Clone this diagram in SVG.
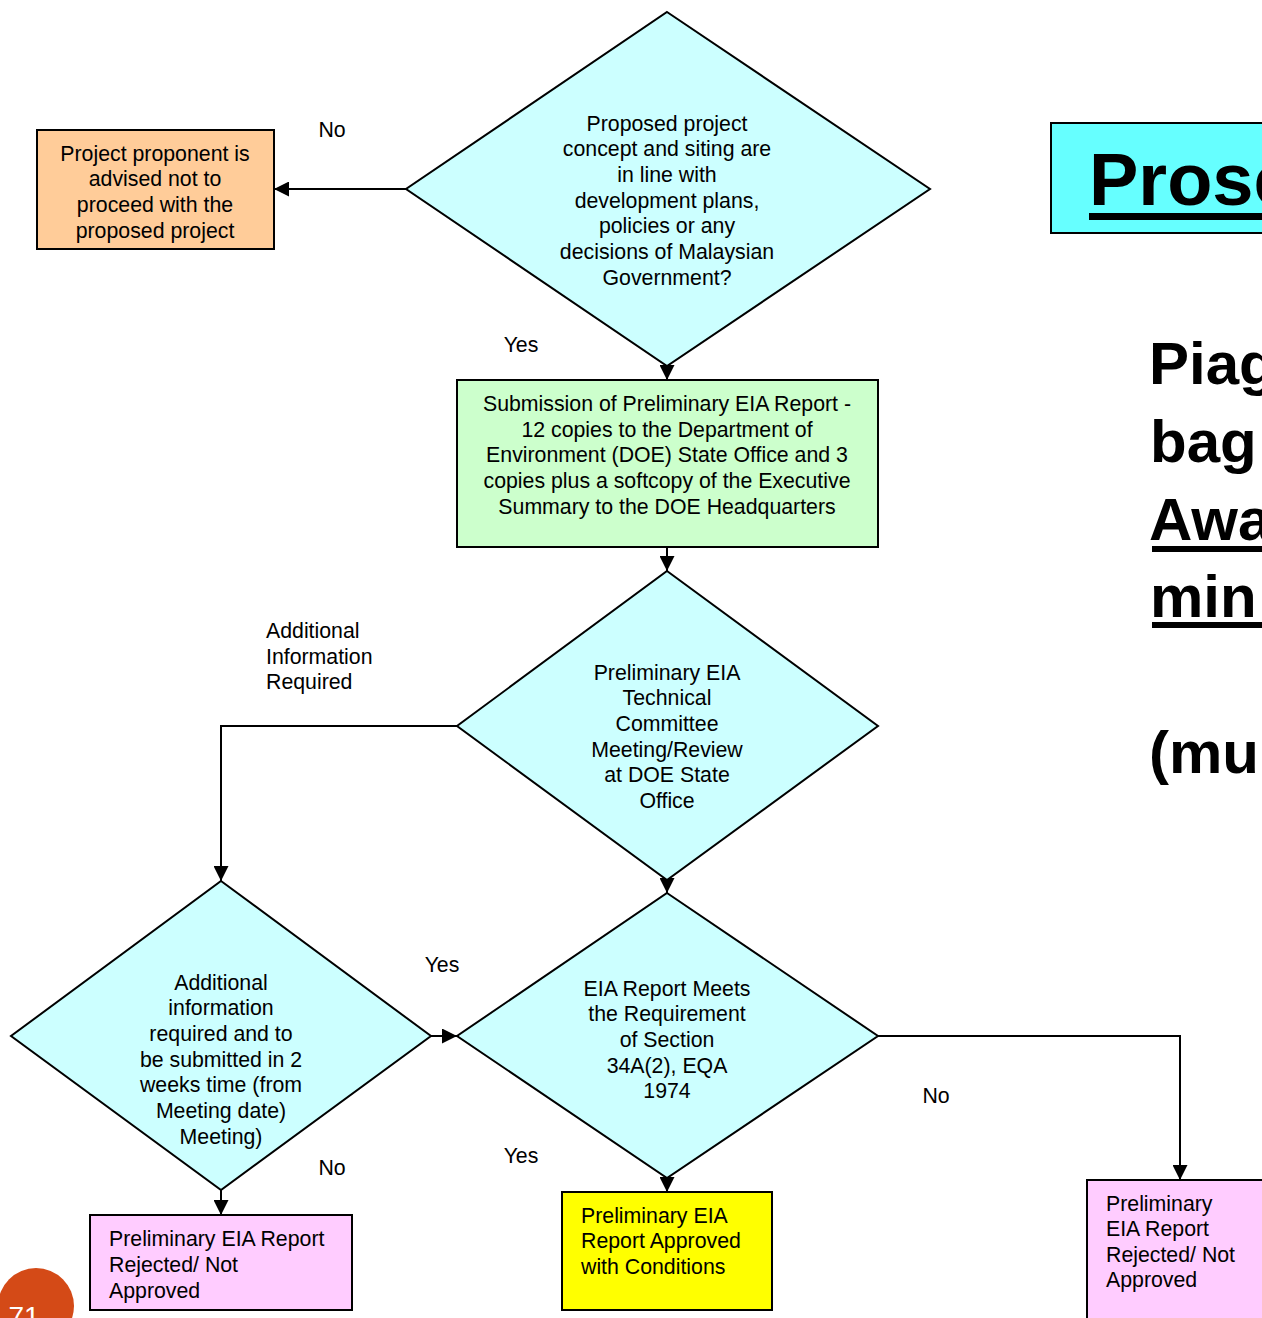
<svg xmlns="http://www.w3.org/2000/svg" width="1262" height="1318" viewBox="0 0 1262 1318">
<defs>
<style>
.t{font-family:"Liberation Sans",Arial,sans-serif;font-size:21.3px;fill:#000}
.c{text-anchor:middle}
.d{fill:#CCFFFF;stroke:#000;stroke-width:2}
.b{stroke:#000;stroke-width:2}
.big{font-family:"Liberation Sans",Arial,sans-serif;font-weight:bold;fill:#000}
.con{fill:none;stroke:#000;stroke-width:2;marker-end:url(#ah)}
</style>
<marker id="ah" viewBox="0 0 15 15" refX="15" refY="7.5" markerWidth="15" markerHeight="15" markerUnits="userSpaceOnUse" orient="auto">
<path d="M0,0 L15,7.5 L0,15 z" fill="#000"/>
</marker>
</defs>
<rect width="1262" height="1318" fill="#fff"/>

<g id="connectors">
<path class="con" d="M406,189 H274"/>
<path class="con" d="M667,366 V380"/>
<path class="con" d="M667,547 V571"/>
<path class="con" d="M667,880 V893"/>
<path class="con" d="M457,726 H221 V881"/>
<path class="con" d="M431,1036 H457"/>
<path class="con" d="M221,1190 V1215"/>
<path class="con" d="M667,1178 V1192"/>
<path class="con" d="M878,1036 H1180 V1180"/>
</g>

<g id="labels" class="t">
<text x="332" y="137" class="c">No</text>
<text x="521" y="352" class="c">Yes</text>
<text x="266" y="638">Additional</text>
<text x="266" y="664">Information</text>
<text x="266" y="689">Required</text>
<text x="442" y="972" class="c">Yes</text>
<text x="936" y="1103" class="c">No</text>
<text x="521" y="1163" class="c">Yes</text>
<text x="332" y="1175" class="c">No</text>
</g>

<g id="d1">
<polygon class="d" points="667,12 930,189 667,366 406,189"/>
<text class="t c" x="667"><tspan x="667" y="131">Proposed project</tspan><tspan x="667" y="156">concept and siting are</tspan><tspan x="667" y="182">in line with</tspan><tspan x="667" y="208">development plans,</tspan><tspan x="667" y="233">policies or any</tspan><tspan x="667" y="259">decisions of Malaysian</tspan><tspan x="667" y="285">Government?</tspan></text>
</g>

<g id="orange">
<rect class="b" x="37" y="130" width="237" height="119" fill="#FFCC99"/>
<text class="t c"><tspan x="155" y="161">Project proponent is</tspan><tspan x="155" y="186">advised not to</tspan><tspan x="155" y="212">proceed with the</tspan><tspan x="155" y="238">proposed project</tspan></text>
</g>

<g id="green">
<rect class="b" x="457" y="380" width="421" height="167" fill="#CCFFCC"/>
<text class="t c"><tspan x="667" y="411">Submission of Preliminary EIA Report -</tspan><tspan x="667" y="437">12 copies to the Department of</tspan><tspan x="667" y="462">Environment (DOE) State Office and 3</tspan><tspan x="667" y="488">copies plus a softcopy of the Executive</tspan><tspan x="667" y="514">Summary to the DOE Headquarters</tspan></text>
</g>

<g id="d2">
<polygon class="d" points="667,571 878,726 667,880 457,726"/>
<text class="t c"><tspan x="667" y="680">Preliminary EIA</tspan><tspan x="667" y="705">Technical</tspan><tspan x="667" y="731">Committee</tspan><tspan x="667" y="757">Meeting/Review</tspan><tspan x="667" y="782">at DOE State</tspan><tspan x="667" y="808">Office</tspan></text>
</g>

<g id="d3">
<polygon class="d" points="667,893 878,1036 667,1178 457,1036"/>
<text class="t c"><tspan x="667" y="996">EIA Report Meets</tspan><tspan x="667" y="1021">the Requirement</tspan><tspan x="667" y="1047">of Section</tspan><tspan x="667" y="1073">34A(2), EQA</tspan><tspan x="667" y="1098">1974</tspan></text>
</g>

<g id="d4">
<polygon class="d" points="221,881 431,1036 221,1190 11,1036"/>
<text class="t c"><tspan x="221" y="990">Additional</tspan><tspan x="221" y="1015">information</tspan><tspan x="221" y="1041">required and to</tspan><tspan x="221" y="1067">be submitted in 2</tspan><tspan x="221" y="1092">weeks time (from</tspan><tspan x="221" y="1118">Meeting date)</tspan><tspan x="221" y="1144">Meeting)</tspan></text>
</g>

<g id="pink1">
<rect class="b" x="90" y="1215" width="262" height="95" fill="#FFCCFF"/>
<text class="t"><tspan x="109" y="1246">Preliminary EIA Report</tspan><tspan x="109" y="1272">Rejected/ Not</tspan><tspan x="109" y="1298">Approved</tspan></text>
</g>

<g id="yellow">
<rect class="b" x="562" y="1192" width="210" height="118" fill="#FFFF00"/>
<text class="t"><tspan x="581" y="1223">Preliminary EIA</tspan><tspan x="581" y="1248">Report Approved</tspan><tspan x="581" y="1274">with Conditions</tspan></text>
</g>

<g id="pink2">
<rect class="b" x="1087" y="1180" width="200" height="160" fill="#FFCCFF"/>
<text class="t"><tspan x="1106" y="1211">Preliminary</tspan><tspan x="1106" y="1236">EIA Report</tspan><tspan x="1106" y="1262">Rejected/ Not</tspan><tspan x="1106" y="1287">Approved</tspan></text>
</g>

<g id="title">
<rect class="b" x="1051" y="123" width="240" height="110" fill="#66FFFF"/>
<text class="big" x="1089" y="205" font-size="74">Prose</text>
<rect x="1089" y="213" width="200" height="7" fill="#000"/>
</g>

<g id="sidetext">
<text class="big" font-size="60" x="1149" y="384">Piag</text>
<text class="big" font-size="60" x="1150" y="462">bag</text>
<text class="big" font-size="60" x="1149" y="540">Awa</text>
<rect x="1152" y="546" width="120" height="6" fill="#000"/>
<text class="big" font-size="60" x="1150" y="617">min</text>
<rect x="1152" y="622" width="120" height="6" fill="#000"/>
<text class="big" font-size="60" x="1149" y="773">(mu</text>
</g>

<g id="pagenum">
<circle cx="36" cy="1306" r="38" fill="#D44A17"/>
<text x="24" y="1326" font-family="Liberation Sans,Arial,sans-serif" font-size="28" fill="#fff" text-anchor="middle">71</text>
</g>
</svg>
